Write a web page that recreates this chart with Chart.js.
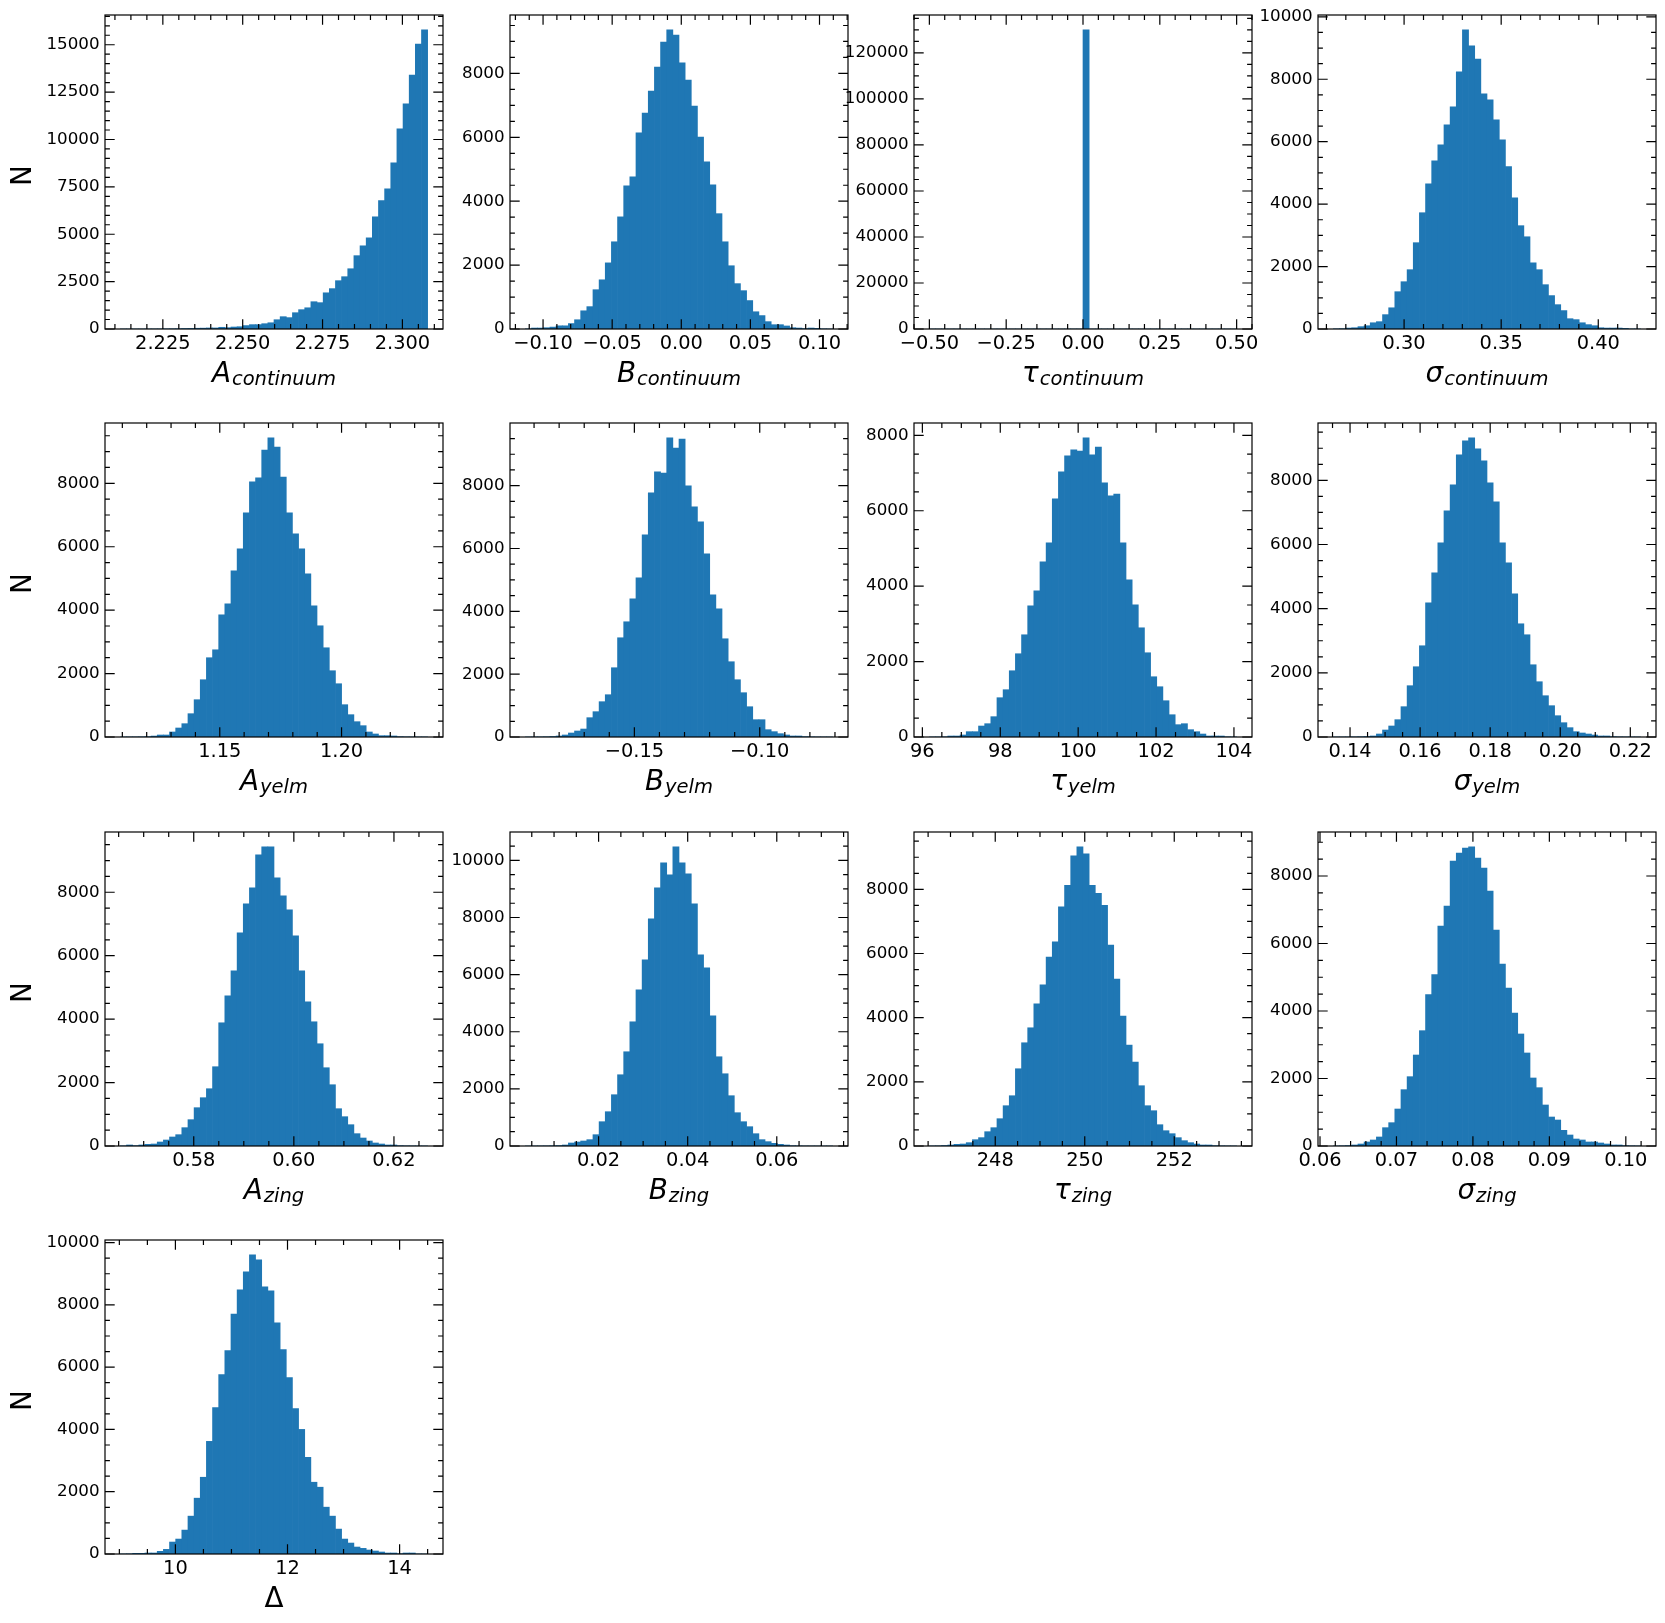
<!DOCTYPE html>
<html>
<head>
<meta charset="utf-8">
<script src="https://cdn.jsdelivr.net/npm/chart.js@4.4.1/dist/chart.umd.min.js"></script>
<style>
  html, body { margin: 0; padding: 0; background: #fff; }
  body { width: 1665px; height: 1623px; position: relative; overflow: hidden; }
  canvas { position: absolute; }
</style>
</head>
<body>
<script>
// counts per bin (50 bins each)
const countsAContinuum = [1, 0, 1, 1, 2, 3, 5, 8, 10, 15, 25, 30, 40, 45, 55, 55, 90, 70, 105, 120, 180, 230, 230, 280, 330, 490, 650, 600, 860, 1020, 1120, 1440, 1390, 1910, 2130, 2550, 2760, 3180, 3870, 4390, 4810, 5920, 6770, 7400, 8770, 10560, 11880, 13400, 15040, 15780];
const countsBContinuum = [5, 30, 30, 40, 60, 100, 100, 170, 290, 570, 700, 1230, 1540, 2070, 2730, 3510, 4480, 4760, 6140, 6760, 7450, 8200, 8980, 9360, 9200, 8330, 7790, 6980, 6010, 5230, 4510, 3610, 2730, 1980, 1420, 1200, 890, 540, 420, 230, 135, 135, 95, 40, 30, 12, 30, 20, 5, 2];
const countsTauContinuum = [0, 0, 0, 0, 0, 0, 0, 0, 0, 0, 0, 0, 0, 0, 0, 0, 0, 0, 0, 0, 0, 0, 0, 0, 0, 130000, 0, 0, 0, 0, 0, 0, 0, 0, 0, 0, 0, 0, 0, 0, 0, 0, 0, 0, 0, 0, 0, 0, 0, 0];
const countsSigmaContinuum = [5, 10, 30, 40, 75, 105, 200, 235, 460, 680, 1195, 1515, 1900, 2765, 3725, 4650, 5390, 5900, 6540, 7120, 8240, 9580, 9070, 8650, 7530, 7340, 6700, 6060, 5200, 4200, 3310, 2955, 2120, 1900, 1420, 1070, 780, 590, 330, 300, 200, 140, 105, 40, 30, 30, 30, 20, 3, 2];
const countsAYelm = [1, 2, 3, 5, 10, 30, 63, 63, 158, 284, 420, 735, 1176, 1806, 2500, 2750, 3853, 4200, 5240, 5933, 7067, 8043, 8170, 9050, 9430, 9146, 8200, 7067, 6405, 5933, 5145, 4137, 3507, 2814, 2090, 1680, 1019, 704, 483, 357, 158, 95, 42, 42, 32, 10, 5, 2, 1, 1];
const countsBYelm = [1, 2, 3, 6, 15, 32, 64, 127, 191, 254, 615, 806, 1124, 1346, 2205, 3159, 3668, 4400, 5067, 6434, 7770, 8438, 8400, 9519, 9200, 9487, 7992, 7325, 6848, 5830, 4526, 4081, 3127, 2396, 1823, 1410, 964, 551, 551, 233, 170, 106, 64, 32, 32, 10, 5, 2, 1, 1];
const countsTauYelm = [1, 2, 5, 26, 26, 53, 141, 141, 291, 353, 539, 1042, 1254, 1757, 2208, 2711, 3479, 3876, 4645, 5148, 6313, 7029, 7453, 7612, 7585, 7930, 7480, 7690, 6737, 6393, 6440, 5148, 4168, 3506, 2896, 2234, 1598, 1333, 962, 591, 327, 353, 194, 141, 79, 26, 26, 26, 5, 2];
const countsSigmaYelm = [1, 1, 2, 4, 8, 15, 32, 93, 218, 343, 540, 945, 1599, 2190, 2844, 4183, 5117, 6052, 7048, 7858, 8792, 9228, 9321, 8979, 8605, 7920, 7328, 6052, 5429, 4463, 3529, 3187, 2252, 1723, 1287, 976, 664, 446, 291, 166, 125, 93, 62, 32, 32, 10, 5, 2, 1, 1];
const countsAZing = [5, 32, 10, 32, 53, 63, 126, 189, 284, 357, 578, 830, 1208, 1523, 1806, 2500, 3885, 4736, 5523, 6720, 7634, 8138, 9177, 9429, 9429, 8453, 7886, 7445, 6626, 5523, 4547, 3917, 3224, 2468, 1932, 1176, 924, 672, 389, 252, 158, 95, 63, 32, 32, 10, 5, 2, 1, 1];
const countsBZing = [1, 1, 2, 4, 8, 15, 35, 105, 140, 175, 222, 396, 851, 1201, 1796, 2495, 3300, 4349, 5469, 6518, 7952, 9037, 9911, 9491, 10471, 9911, 9526, 8477, 6693, 6238, 4559, 3125, 2530, 1761, 1166, 851, 676, 431, 222, 152, 93, 58, 35, 10, 5, 2, 1, 1, 0, 1];
const countsTauZing = [2, 5, 15, 31, 52, 62, 104, 197, 260, 446, 571, 851, 1256, 1567, 2408, 3218, 3685, 4432, 5024, 5885, 6363, 7453, 8128, 9041, 9321, 9103, 8128, 7878, 7505, 6259, 5200, 4048, 3145, 2616, 1879, 1256, 1100, 664, 477, 384, 260, 166, 104, 62, 31, 31, 10, 5, 2, 1];
const countsSigmaZing = [2, 5, 12, 30, 59, 119, 178, 267, 543, 691, 1096, 1669, 2054, 2696, 3417, 4484, 5077, 6519, 7111, 8445, 8682, 8830, 8860, 8534, 8237, 7556, 6400, 5393, 4682, 3941, 3319, 2756, 2015, 1728, 1215, 859, 770, 464, 326, 207, 178, 119, 119, 89, 59, 30, 30, 10, 5, 2];
const countsDelta = [1, 5, 21, 21, 32, 32, 85, 149, 384, 480, 768, 1216, 1793, 2465, 3617, 4705, 5762, 6530, 7704, 8483, 9059, 9603, 9443, 8579, 8451, 7427, 6562, 5666, 4673, 4001, 3105, 2305, 2145, 1504, 1216, 800, 480, 352, 224, 181, 128, 96, 64, 32, 32, 10, 32, 32, 3, 1];

// histogram ranges [first edge, last edge]
const rangeAContinuum = [2.2117, 2.3079];
const rangeBContinuum = [-0.1128, 0.1095];
const rangeTauContinuum = [-0.5, 0.5];
const rangeSigmaContinuum = [0.26358, 0.42182];
const rangeAYelm = [1.10919, 1.23534];
const rangeBYelm = [-0.19347, -0.07093];
const rangeTauYelm = [96.1795, 104.069];
const rangeSigmaYelm = [0.13524, 0.22295];
const rangeAZing = [0.56534, 0.62673];
const rangeBZing = [0.00356, 0.07254];
const rangeTauZing = [246.528, 253.394];
const rangeSigmaZing = [0.061747, 0.101938];
const rangeDelta = [9.018, 14.5];

// major tick values
const xTicksAContinuum = [2.225, 2.25, 2.275, 2.3];
const xTicksBContinuum = [-0.1, -0.05, 0, 0.05, 0.1];
const xTicksTauContinuum = [-0.5, -0.25, 0, 0.25, 0.5];
const xTicksSigmaContinuum = [0.3, 0.35, 0.4];
const xTicksAYelm = [1.15, 1.2];
const xTicksBYelm = [-0.15, -0.1];
const xTicksTauYelm = [96, 98, 100, 102, 104];
const xTicksSigmaYelm = [0.14, 0.16, 0.18, 0.2, 0.22];
const xTicksAZing = [0.58, 0.6, 0.62];
const xTicksBZing = [0.02, 0.04, 0.06];
const xTicksTauZing = [248, 250, 252];
const xTicksSigmaZing = [0.06, 0.07, 0.08, 0.09, 0.1];
const xTicksDelta = [10, 12, 14];

const yTicks2500 = [0, 2500, 5000, 7500, 10000, 12500, 15000];
const yTicks2000 = [0, 2000, 4000, 6000, 8000];
const yTicks2000to10k = [0, 2000, 4000, 6000, 8000, 10000];
const yTicks20000 = [0, 20000, 40000, 60000, 80000, 100000, 120000];

const panels = [
  { counts: countsAContinuum, range: rangeAContinuum, xt: xTicksAContinuum, yt: yTicks2500, dec: 3, xm: 0.005, ym: 500, main: 'A', sub: 'continuum', it: true },
  { counts: countsBContinuum, range: rangeBContinuum, xt: xTicksBContinuum, yt: yTicks2000, dec: 2, xm: 0.01, ym: 500, main: 'B', sub: 'continuum', it: true },
  { counts: countsTauContinuum, range: rangeTauContinuum, xt: xTicksTauContinuum, yt: yTicks20000, dec: 2, xm: 0.05, ym: 5000, main: 'τ', sub: 'continuum', it: true },
  { counts: countsSigmaContinuum, range: rangeSigmaContinuum, xt: xTicksSigmaContinuum, yt: yTicks2000to10k, dec: 2, xm: 0.01, ym: 500, main: 'σ', sub: 'continuum', it: true },
  { counts: countsAYelm, range: rangeAYelm, xt: xTicksAYelm, yt: yTicks2000, dec: 2, xm: 0.01, ym: 500, main: 'A', sub: 'yelm', it: true },
  { counts: countsBYelm, range: rangeBYelm, xt: xTicksBYelm, yt: yTicks2000, dec: 2, xm: 0.01, ym: 500, main: 'B', sub: 'yelm', it: true },
  { counts: countsTauYelm, range: rangeTauYelm, xt: xTicksTauYelm, yt: yTicks2000, dec: 0, xm: 0.5, ym: 500, main: 'τ', sub: 'yelm', it: true },
  { counts: countsSigmaYelm, range: rangeSigmaYelm, xt: xTicksSigmaYelm, yt: yTicks2000, dec: 2, xm: 0.005, ym: 500, main: 'σ', sub: 'yelm', it: true },
  { counts: countsAZing, range: rangeAZing, xt: xTicksAZing, yt: yTicks2000, dec: 2, xm: 0.005, ym: 500, main: 'A', sub: 'zing', it: true },
  { counts: countsBZing, range: rangeBZing, xt: xTicksBZing, yt: yTicks2000to10k, dec: 2, xm: 0.005, ym: 500, main: 'B', sub: 'zing', it: true },
  { counts: countsTauZing, range: rangeTauZing, xt: xTicksTauZing, yt: yTicks2000, dec: 0, xm: 0.5, ym: 500, main: 'τ', sub: 'zing', it: true },
  { counts: countsSigmaZing, range: rangeSigmaZing, xt: xTicksSigmaZing, yt: yTicks2000, dec: 2, xm: 0.002, ym: 500, main: 'σ', sub: 'zing', it: true },
  { counts: countsDelta, range: rangeDelta, xt: xTicksDelta, yt: yTicks2000to10k, dec: 0, xm: 0.5, ym: 500, main: 'Δ', sub: '', it: false },
];

const colLeft = [105, 510, 914, 1318];
const rowTop = [15, 423, 832, 1240];
const PW = 338, PH = 314, YW = 100, TP = 20, RP = 25, XH = 75;
const FONT = 'DejaVu Sans';

const fmt = (v, dec) => v.toFixed(dec).replace('-', '\u2212');

function minorValues(min, max, step) {
  const out = [];
  for (let i = Math.ceil(min / step - 1e-9); i <= Math.floor(max / step + 1e-9); i++) out.push(i * step);
  return out;
}

// frame, inward ticks on all four sides, axis labels
function framePlugin(p, col) {
  return {
    id: 'frame',
    afterDraw(chart) {
      const { ctx, chartArea: a, scales: { x, y } } = chart;
      ctx.save();
      ctx.strokeStyle = '#000';
      ctx.lineWidth = 1.2;
      ctx.beginPath();
      const markX = (v, len) => {
        const px = x.getPixelForValue(v);
        ctx.moveTo(px, a.bottom); ctx.lineTo(px, a.bottom - len);
        ctx.moveTo(px, a.top); ctx.lineTo(px, a.top + len);
      };
      const markY = (v, len) => {
        const py = y.getPixelForValue(v);
        ctx.moveTo(a.left, py); ctx.lineTo(a.left + len, py);
        ctx.moveTo(a.right, py); ctx.lineTo(a.right - len, py);
      };
      minorValues(x.min, x.max, p.xm).forEach(v => markX(v, 4.9));
      minorValues(y.min, y.max, p.ym).forEach(v => markY(v, 4.9));
      p.xt.forEach(v => markX(v, 9.7));
      p.yt.forEach(v => markY(v, 9.7));
      ctx.stroke();
      ctx.lineWidth = 1.2;
      ctx.strokeRect(a.left, a.top, a.right - a.left, a.bottom - a.top);

      // x label with subscript
      ctx.fillStyle = '#000';
      ctx.textAlign = 'left';
      ctx.textBaseline = 'alphabetic';
      const mainFont = (p.it ? 'italic ' : '') + '27.8px "' + FONT + '"';
      const subFont = 'italic 19.5px "' + FONT + '"';
      ctx.font = mainFont;
      const w1 = ctx.measureText(p.main).width;
      ctx.font = subFont;
      const w2 = p.sub ? ctx.measureText(p.sub).width + 1 : 0;
      const x0 = (a.left + a.right) / 2 - (w1 + w2) / 2;
      const base = a.bottom + 53;
      ctx.font = mainFont;
      ctx.fillText(p.main, x0, base);
      if (p.sub) {
        ctx.font = subFont;
        ctx.fillText(p.sub, x0 + w1 + 1, base + 3);
      }

      if (col === 0) {
        ctx.save();
        ctx.translate(a.left - 81, (a.top + a.bottom) / 2 + 3.5);
        ctx.rotate(-Math.PI / 2);
        ctx.textAlign = 'center';
        ctx.textBaseline = 'middle';
        ctx.font = '27.8px "' + FONT + '"';
        ctx.fillText('N', 0, 0);
        ctx.restore();
      }
      ctx.restore();
    }
  };
}

panels.forEach((p, i) => {
  const col = i % 4, row = Math.floor(i / 4);
  const cv = document.createElement('canvas');
  cv.width = YW + PW + RP;
  cv.height = TP + PH + XH;
  cv.style.left = (colLeft[col] - YW) + 'px';
  cv.style.top = (rowTop[row] - TP) + 'px';
  document.body.appendChild(cv);

  const [lo, hi] = p.range;
  const bw = (hi - lo) / p.counts.length;
  const pts = p.counts.map((c, k) => ({ x: lo + (k + 0.5) * bw, y: c }));
  const pad = 0.05 * (hi - lo);
  const ymax = 1.05 * Math.max(...p.counts);

  new Chart(cv, {
    type: 'bar',
    data: {
      datasets: [{
        data: pts,
        backgroundColor: '#1f77b4',
        borderWidth: 0,
        barPercentage: 1,
        categoryPercentage: 1
      }]
    },
    options: {
      responsive: false,
      animation: false,
      devicePixelRatio: 1,
      layout: { padding: { top: TP, right: RP, left: 0, bottom: 0 } },
      plugins: { legend: { display: false }, tooltip: { enabled: false } },
      scales: {
        x: {
          type: 'linear',
          min: lo - pad,
          max: hi + pad,
          offset: false,
          grid: { display: false, drawTicks: false },
          border: { display: false },
          afterFit: s => { s.height = XH; },
          afterBuildTicks: s => { s.ticks = p.xt.map(v => ({ value: v })); },
          ticks: {
            autoSkip: false, maxRotation: 0, padding: 3.5, color: '#000',
            font: { family: FONT, size: 19.4 },
            callback: v => fmt(v, p.dec)
          }
        },
        y: {
          type: 'linear',
          min: 0,
          max: ymax,
          grid: { display: false, drawTicks: false },
          border: { display: false },
          afterFit: s => { s.width = YW; },
          afterBuildTicks: s => { s.ticks = p.yt.map(v => ({ value: v })); },
          ticks: {
            autoSkip: false, padding: 5.5, color: '#000',
            font: { family: FONT, size: 16.7 },
            callback: v => String(v)
          }
        }
      }
    },
    plugins: [framePlugin(p, col)]
  });
});
</script>
</body>
</html>
